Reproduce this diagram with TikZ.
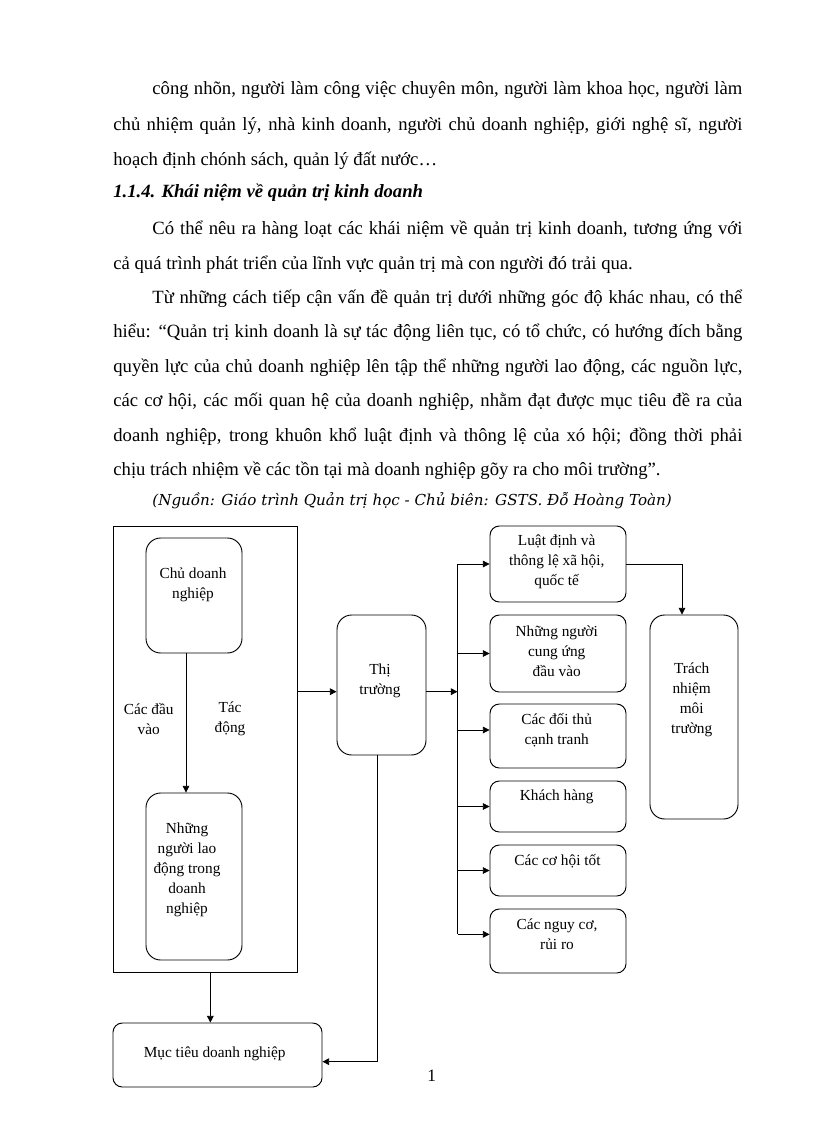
\documentclass[tikz,border=0pt]{standalone}
\usepackage{fontspec}
\setmainfont{Liberation Serif}
\newfontfamily\srcfont{DejaVu Serif}
\usetikzlibrary{arrows.meta, positioning}

\tikzset{
  txt/.style={anchor=base west, inner sep=0pt, font=\fontsize{14}{16}\selectfont},
  box/.style={draw, rounded corners=7pt, line width=0.7pt, inner sep=0pt},
  tallbox/.style={box, rounded corners=11pt},
  sz/.style 2 args={minimum width=#1*0.75pt, minimum height=#2*0.75pt},
  lbl/.style={align=center, inner sep=0pt, font=\fontsize{11.5}{15}\selectfont},
}
\newcommand{\fullline}[1]{\makebox[471.75pt][s]{#1}}
\newcommand{\indline}[1]{\makebox[442.5pt][s]{#1}}

\begin{document}
\begin{tikzpicture}[x=0.75pt, y=-0.75pt, >={Triangle[length=5pt,width=5pt]}, line width=0.6pt]
  \useasboundingbox (0,0) rectangle (816,1123);

  % Text above the chart
  \node[txt] (p1a) at (152,94.5) {\indline{công nhõn, người làm công việc chuyên môn, người làm khoa học, người làm}};
  \node[txt] (p1b) at (113,130.5) {\fullline{chủ nhiệm quản lý, nhà kinh doanh, người chủ doanh nghiệp, giới nghệ sĩ, người}};
  \node[txt] (p1c) at (113,165.5) {hoạch định chónh sách, quản lý đất nước…};
  \node[txt, font=\fontsize{14}{16}\selectfont\bfseries\itshape] (head) at (113,198) {1.1.4. Khái niệm về quản trị kinh doanh};
  \node[txt] (p2a) at (152,234.5) {\indline{Có thể nêu ra hàng loạt các khái niệm về quản trị kinh doanh, tương ứng với}};
  \node[txt] (p2b) at (113,269.5) {cả quá trình phát triển của lĩnh vực quản trị mà con người đó trải qua.};
  \node[txt] (p3a) at (152,303.5) {\indline{Từ những cách tiếp cận vấn đề quản trị dưới những góc độ khác nhau, có thể}};
  \node[txt] (p3b) at (113,337.5) {\fullline{hiểu: “Quản trị kinh doanh là sự tác động liên tục, có tổ chức, có hướng đích bằng}};
  \node[txt] (p3c) at (113,372) {\fullline{quyền lực của chủ doanh nghiệp lên tập thể những người lao động, các nguồn lực,}};
  \node[txt] (p3d) at (113,406.5) {\fullline{các cơ hội, các mối quan hệ của doanh nghiệp, nhằm đạt được mục tiêu đề ra của}};
  \node[txt] (p3e) at (113,441) {\fullline{doanh nghiệp, trong khuôn khổ luật định và thông lệ của xó hội; đồng thời phải}};
  \node[txt] (p3f) at (113,475.5) {chịu trách nhiệm về các tồn tại mà doanh nghiệp gõy ra cho môi trường”.};
  \node[txt, font=\srcfont\fontsize{11.35}{13}\selectfont\itshape] (src) at (152,505) {(Nguồn: Giáo trình Quản trị học - Chủ biên: GSTS. Đỗ Hoàng Toàn)};

  % Boxes
  \node[draw, line width=0.7pt, sz={184}{446}] (outer) at (205,749) {};
  \node[tallbox, sz={96}{115}] (chu) at (194,595.5) {};
  \node[tallbox, sz={96}{167}] (laodong) at (194,876.5) {};
  \node[box, sz={209}{64}] (muctieu) at (217.5,1055) {};
  \node[tallbox, sz={89}{140}] (thitruong) at (381.5,685) {};
  \node[box, sz={136}{76}] (luat) at (558,564) {};
  \node[box, sz={136}{77}] (cungung) at (558,653.5) {};
  \node[box, sz={136}{64}] (doithu) at (558,736) {};
  \node[box, sz={136}{51}] (khach) at (558,806.5) {};
  \node[box, sz={136}{51}] (coho) at (558,870.5) {};
  \node[box, sz={136}{64}] (nguyco) at (558,941) {};
  \node[tallbox, sz={88}{204}] (trachnhiem) at (694,717) {};

  % Labels
  \node[lbl] (chu-t) at (193,584.5) {Chủ doanh\\nghiệp};
  \node[lbl] (dauvao) at (148.7,719) {Các đầu\\vào};
  \node[lbl] (tacdong) at (230,719) {Tác\\động};
  \node[lbl] (laodong-t) at (187,869.5) {Những\\người lao\\động trong\\doanh\\nghiệp};
  \node[lbl] (muctieu-t) at (214.7,1054) {Mục tiêu doanh nghiệp};
  \node[lbl] (thitruong-t) at (380,680.5) {Thị\\trường};
  \node[lbl] (luat-t) at (556.7,561.7) {Luật định và\\thông lệ xã hội,\\quốc tế};
  \node[lbl] (cungung-t) at (556.7,651) {Những người\\cung ứng\\đầu vào};
  \node[lbl] (doithu-t) at (556.7,730.5) {Các đối thủ\\cạnh tranh};
  \node[lbl] (khach-t) at (556.7,797.3) {Khách hàng};
  \node[lbl] (coho-t) at (557.5,861) {Các cơ hội tốt};
  \node[lbl] (nguyco-t) at (557,934.7) {Các nguy cơ,\\rủi ro};
  \node[lbl] (trachnhiem-t) at (691.7,700) {Trách\\nhiệm\\môi\\trường};

  \node[inner sep=0pt, font=\fontsize{13}{15}\selectfont] (pgno) at (431.7,1075.7) {1};

  % Arrows
  \draw[->] ([xshift=-6pt]chu.south) -- ([xshift=-6pt]laodong.north);
  \coordinate (ttin) at ([yshift=-5pt]thitruong.west);
  \draw[->] (outer.east |- ttin) -- (ttin);
  \coordinate (bus) at (457.5,0);
  \draw[->] ([yshift=-5pt]thitruong.east) -- ([yshift=-5pt]thitruong.east -| bus);
  \draw (luat.west -| bus) -- ([yshift=5pt]nguyco.west -| bus);
  \foreach \b/\s in {luat/0, cungung/0, doithu/4.5, khach/0, coho/0, nguyco/5}
    \draw[->] ([yshift=\s pt]\b.west -| bus) -- ([yshift=\s pt]\b.west);
  \draw[->] (luat.east) -| ([xshift=-9pt]trachnhiem.north);
  \draw[->] ([xshift=4pt]outer.south) -- ([xshift=4pt]outer.south |- muctieu.north);
  \draw[->] ([xshift=-3pt]thitruong.south) |- ([yshift=-5pt]muctieu.east);

\end{tikzpicture}
\end{document}
